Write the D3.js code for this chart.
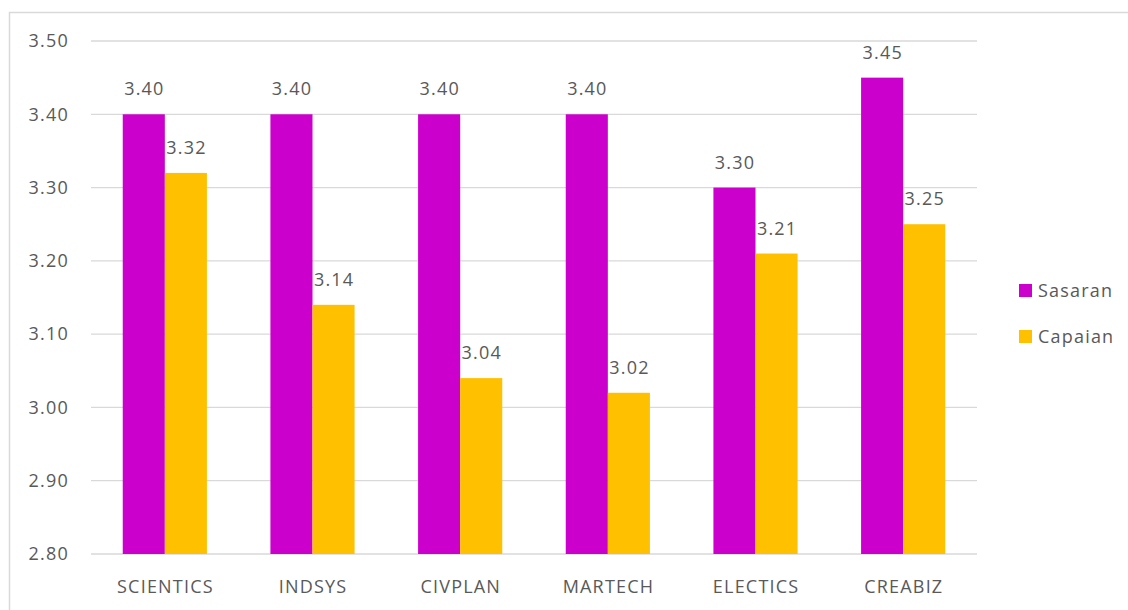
<!DOCTYPE html>
<html>
<head>
<meta charset="utf-8">
<script src="https://cdn.jsdelivr.net/npm/d3@7"></script>
<style>
body { margin: 0; background: #fff; }
text { font-family: "Open Sans", sans-serif; fill: #595959; font-size: 18px; letter-spacing: 1.2px; }
</style>
</head>
<body>
<script>
"use strict"
const categories = ['SCIENTICS', 'INDSYS', 'CIVPLAN', 'MARTECH', 'ELECTICS', 'CREABIZ'];
const seriesNames = ['Sasaran', 'Capaian'];
const sasaran = [3.40, 3.40, 3.40, 3.40, 3.30, 3.45];
const capaian = [3.32, 3.14, 3.04, 3.02, 3.21, 3.25];
const yTicks = [2.80, 2.90, 3.00, 3.10, 3.20, 3.30, 3.40, 3.50];
const colors = ['#cc00cc', '#ffc000'];

const w = 1128, h = 610;
const plotLeft = 91, plotRight = 977, plotTop = 41, plotBottom = 554;

const svg = d3.select('body')
	.append('svg')
	.attr('width', w)
	.attr('height', h);

// outer frame
svg.append('rect')
	.attr('x', 9.5).attr('y', 12.5)
	.attr('width', w + 10).attr('height', h + 10)
	.attr('fill', 'none')
	.attr('stroke', '#d9d9d9')
	.attr('stroke-width', 1.5);

const yScale = d3.scaleLinear()
	.domain([2.80, 3.50])
	.range([plotBottom, plotTop]);

const xScale = d3.scaleBand()
	.domain(categories)
	.range([plotLeft, plotRight])
	.paddingInner(0.43)
	.paddingOuter(0.215);

const sub = d3.scaleBand()
	.domain(seriesNames)
	.range([0, xScale.bandwidth()]);

// gridlines
svg.append('g')
	.selectAll('line')
	.data(yTicks)
	.enter()
	.append('line')
	.attr('x1', plotLeft).attr('x2', plotRight)
	.attr('y1', d => yScale(d)).attr('y2', d => yScale(d))
	.attr('stroke', '#d9d9d9')
	.attr('stroke-width', 1.3);

// y labels
svg.append('g')
	.selectAll('text')
	.data(yTicks)
	.enter()
	.append('text')
	.attr('x', 69)
	.attr('y', d => yScale(d))
	.attr('dy', '0.35em')
	.attr('text-anchor', 'end')
	.text(d => d.toFixed(2));

// x labels
svg.append('g')
	.selectAll('text')
	.data(categories)
	.enter()
	.append('text')
	.attr('x', d => xScale(d) + xScale.bandwidth() / 2 + 0.6)
	.attr('y', 593)
	.attr('text-anchor', 'middle')
	.text(d => d);

const series = [sasaran, capaian];
series.forEach((vals, si) => {
	const g = svg.append('g');
	const rows = categories.map((c, i) => ({ c: c, v: vals[i] }));
	g.selectAll('rect')
		.data(rows)
		.enter()
		.append('rect')
		.attr('x', d => xScale(d.c) + sub(seriesNames[si]))
		.attr('y', d => yScale(d.v))
		.attr('width', sub.bandwidth())
		.attr('height', d => plotBottom - yScale(d.v))
		.attr('fill', colors[si]);
	g.selectAll('text')
		.data(rows)
		.enter()
		.append('text')
		.attr('x', d => xScale(d.c) + sub(seriesNames[si]) + sub.bandwidth() / 2 + 0.6)
		.attr('y', d => yScale(d.v) - 19)
		.attr('text-anchor', 'middle')
		.text(d => d.v.toFixed(2));
});

// legend
const legend = svg.append('g')
	.selectAll('g')
	.data(seriesNames)
	.enter()
	.append('g')
	.attr('transform', (d, i) => 'translate(1019,' + (284 + i * 46) + ')');
legend.append('rect')
	.attr('width', 13).attr('height', 13)
	.attr('fill', (d, i) => colors[i]);
legend.append('text')
	.attr('x', 19)
	.attr('y', 7)
	.attr('dy', '0.35em')
	.text(d => d);
</script>
</body>
</html>
